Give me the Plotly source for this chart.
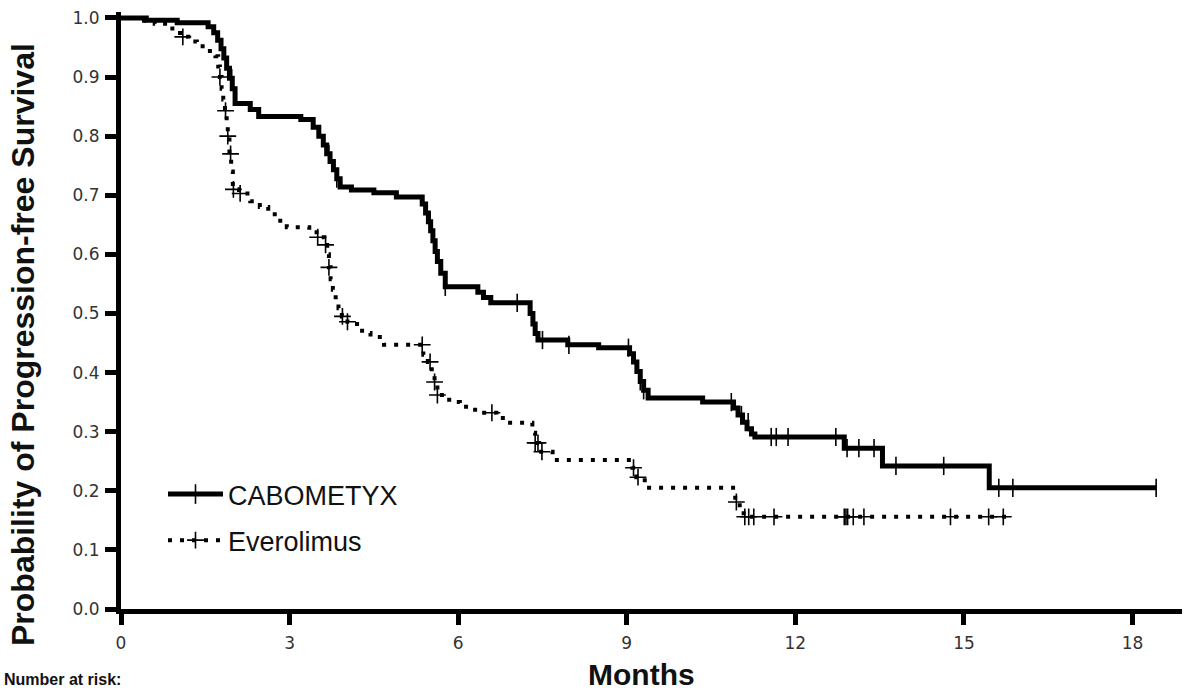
import plotly.graph_objects as go

# ---------------- data ----------------
cab_name = "CABOMETYX"
eve_name = "Everolimus"

cab_time = [0, 0.45, 1.0, 1.55, 1.65, 1.72, 1.78, 1.83, 1.88, 1.93,
            1.98, 2.03, 2.3, 2.45, 3.2, 3.42, 3.52, 3.6, 3.66, 3.72,
            3.78, 3.84, 3.9, 4.1, 4.5, 4.9, 5.36, 5.42, 5.47, 5.51,
            5.55, 5.59, 5.63, 5.69, 5.77, 6.35, 6.45, 6.58, 7.28, 7.33,
            7.37, 7.42, 7.95, 8.5, 9.05, 9.12, 9.18, 9.24, 9.3, 9.38,
            10.35, 10.9, 10.98, 11.06, 11.14, 11.22, 11.28, 12.87, 13.55, 15.45,
            18.42]
cab_surv = [1.0, 0.996, 0.992, 0.985, 0.975, 0.962, 0.948, 0.932, 0.915, 0.898,
            0.88, 0.855, 0.845, 0.833, 0.828, 0.815, 0.8, 0.785, 0.77, 0.757,
            0.743, 0.728, 0.714, 0.709, 0.704, 0.697, 0.685, 0.67, 0.655, 0.64,
            0.623, 0.605, 0.588, 0.568, 0.545, 0.536, 0.527, 0.518, 0.5, 0.482,
            0.466, 0.455, 0.447, 0.442, 0.432, 0.418, 0.402, 0.385, 0.37, 0.357,
            0.35, 0.34, 0.328, 0.316, 0.305, 0.296, 0.291, 0.272, 0.242, 0.205,
            0.205]
cab_cens_time = [1.97, 3.7, 3.84, 5.5, 5.77, 7.05, 7.5, 7.97, 9.03, 9.24,
                 9.3, 10.86, 11.04, 11.16, 11.57, 11.66, 11.87, 12.72, 12.92, 13.13,
                 13.4, 13.79, 14.64, 15.62, 15.87, 18.42]
cab_cens_surv = [0.898, 0.77, 0.728, 0.655, 0.545, 0.518, 0.455, 0.447, 0.442, 0.385,
                 0.37, 0.35, 0.328, 0.316, 0.291, 0.291, 0.291, 0.291, 0.272, 0.272,
                 0.272, 0.242, 0.242, 0.205, 0.205, 0.205]

eve_time = [0, 0.3, 0.6, 0.85, 1.05, 1.2, 1.35, 1.5, 1.68, 1.73,
            1.76, 1.79, 1.82, 1.85, 1.88, 1.9, 1.93, 1.96, 1.99, 2.1,
            2.3, 2.47, 2.62, 2.78, 2.95, 3.35, 3.48, 3.62, 3.67, 3.7,
            3.73, 3.77, 3.82, 3.87, 3.93, 4.03, 4.2, 4.29, 4.44, 4.68,
            5.38, 5.46, 5.53, 5.58, 5.63, 5.84, 6.03, 6.21, 6.39, 6.68,
            6.87, 7.32, 7.37, 7.44, 7.68, 9.1, 9.17, 9.32, 10.93, 11.01,
            11.08, 15.75]
eve_surv = [1.0, 0.995, 0.99, 0.982, 0.968, 0.96, 0.952, 0.944, 0.935, 0.918,
            0.9, 0.88, 0.862, 0.843, 0.823, 0.8, 0.77, 0.74, 0.71, 0.703,
            0.69, 0.68, 0.668, 0.657, 0.646, 0.641, 0.629, 0.616, 0.6, 0.578,
            0.558, 0.54, 0.523, 0.509, 0.495, 0.486, 0.478, 0.467, 0.46, 0.447,
            0.43, 0.418, 0.4, 0.384, 0.362, 0.35, 0.342, 0.337, 0.332, 0.323,
            0.315, 0.298, 0.281, 0.266, 0.252, 0.239, 0.223, 0.205, 0.181, 0.171,
            0.156, 0.156]
eve_cens_time = [1.1, 1.76, 1.86, 1.9, 1.95, 2.0, 2.12, 3.5, 3.64, 3.7,
                 3.94, 4.03, 5.36, 5.5, 5.58, 5.63, 6.6, 7.37, 7.42, 7.49,
                 9.12, 9.2, 10.95, 11.1, 11.17, 11.26, 11.62, 12.87, 12.9, 12.93,
                 13.03, 13.22, 14.76, 15.44, 15.7]
eve_cens_surv = [0.968, 0.9, 0.843, 0.8, 0.77, 0.71, 0.703, 0.629, 0.616, 0.578,
                 0.495, 0.486, 0.447, 0.418, 0.384, 0.362, 0.332, 0.281, 0.281, 0.266,
                 0.239, 0.223, 0.181, 0.156, 0.156, 0.156, 0.156, 0.156, 0.156, 0.156,
                 0.156, 0.156, 0.156, 0.156, 0.156]

x_ticks = [0, 3, 6, 9, 12, 15, 18]
y_ticks = [0.0, 0.1, 0.2, 0.3, 0.4, 0.5, 0.6, 0.7, 0.8, 0.9, 1.0]
x_title = "Months"
y_title = "Probability of Progression-free Survival"
risk_label = "Number at risk:"

# ---------------- styles ----------------
FONT = "Liberation Sans, Arial, Helvetica, sans-serif"
TICKFONT = "DejaVu Sans, Verdana, sans-serif"
DOT = "4px,8px"

fig = go.Figure()

fig.add_trace(go.Scatter(x=cab_time, y=cab_surv, mode="lines",
                         line=dict(shape="hv", color="black", width=5),
                         showlegend=False, hoverinfo="skip"))
fig.add_trace(go.Scatter(x=cab_cens_time, y=cab_cens_surv, mode="markers",
                         marker=dict(symbol="line-ns", size=13, color="black",
                                     line=dict(width=1.6, color="black")),
                         showlegend=False, hoverinfo="skip"))
fig.add_trace(go.Scatter(x=eve_time, y=eve_surv, mode="lines",
                         line=dict(shape="hv", color="black", width=4, dash=DOT),
                         showlegend=False, hoverinfo="skip"))
fig.add_trace(go.Scatter(x=eve_cens_time, y=eve_cens_surv, mode="markers",
                         marker=dict(symbol="cross-thin", size=12, color="black",
                                     line=dict(width=1.6, color="black")),
                         showlegend=False, hoverinfo="skip"))

# legend entries
fig.add_trace(go.Scatter(x=[None], y=[None], mode="lines+markers", name=cab_name,
                         legendgroup="a",
                         line=dict(color="black", width=5),
                         marker=dict(symbol="line-ns", size=14, color="black",
                                     line=dict(width=1.6, color="black"))))
fig.add_trace(go.Scatter(x=[None], y=[None], mode="lines+markers", name=eve_name,
                         legendgroup="b",
                         line=dict(color="black", width=4, dash="4px,8px"),
                         marker=dict(symbol="cross-thin", size=12, color="black",
                                     line=dict(width=1.6, color="black"))))

L, R, T, B = 121, 9, 12, 83
W, H = 1191, 692
pw = W - L - R
ph = H - T - B

def px_x(px):
    return (px - L) / pw

def px_y(py):
    return (H - B - py) / ph

fig.update_layout(
    width=W, height=H,
    margin=dict(l=L, r=R, t=T, b=B, pad=0),
    paper_bgcolor="white", plot_bgcolor="white",
    font=dict(family=FONT, color="#111"),
    showlegend=True,
    hovermode=False,
    legend=dict(x=px_x(163), y=px_y(470), xanchor="left", yanchor="top",
                bgcolor="rgba(0,0,0,0)", font=dict(size=27, color="#111", family=FONT),
                traceorder="grouped", tracegroupgap=8, itemwidth=55),
    xaxis=dict(range=[0, 18.88], tickvals=x_ticks, showgrid=False, zeroline=False,
               showline=True, linecolor="black", linewidth=5,
               ticks="outside", ticklen=11, tickwidth=5, tickcolor="black",
               tickfont=dict(size=17, color="#333", family=TICKFONT),
               ticklabelstandoff=4),
    yaxis=dict(range=[0, 1.01], tickvals=y_ticks, tickformat=".1f",
               showgrid=False, zeroline=False,
               showline=True, linecolor="black", linewidth=5,
               ticks="outside", ticklen=11, tickwidth=5, tickcolor="black",
               tickfont=dict(size=17, color="#333", family=TICKFONT),
               ticklabelstandoff=2),
)

fig.add_annotation(text=f"<b>{y_title}</b>", textangle=-90, showarrow=False,
                   xref="paper", yref="paper", x=px_x(23), y=px_y(345),
                   xanchor="center", yanchor="middle",
                   font=dict(size=32, color="#111", family=FONT))
fig.add_annotation(text=f"<b>{x_title}</b>", showarrow=False,
                   xref="paper", yref="paper", x=px_x(641), y=px_y(674),
                   xanchor="center", yanchor="middle",
                   font=dict(size=30, color="#111", family=FONT))
fig.add_annotation(text=f"<b>{risk_label}</b>", showarrow=False,
                   xref="paper", yref="paper", x=px_x(2), y=px_y(690),
                   xanchor="left", yanchor="bottom",
                   font=dict(size=16, color="#111", family=FONT))

fig.write_html("out.html",
               config={"displayModeBar": False, "staticPlot": True},
               post_script="document.body.style.margin='0px';document.body.style.overflow='hidden';")
